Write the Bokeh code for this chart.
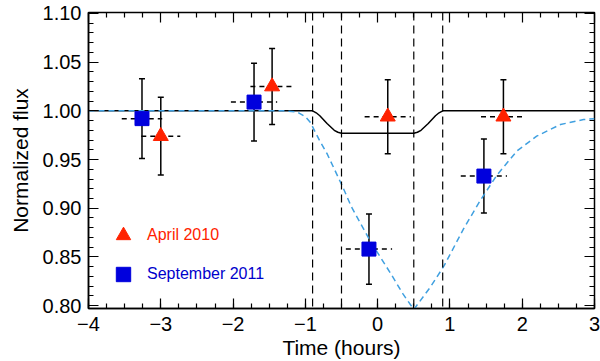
import numpy as np
from bokeh.plotting import figure
from bokeh.models import (ColumnDataSource, Whisker, TeeHead, Span, Legend, LegendItem,
                          LinearAxis, SingleIntervalTicker, FixedTicker, NumeralTickFormatter,
                          Range1d)
from bokeh.embed import file_html
from bokeh.resources import INLINE

# ---------------- data ----------------
april_time = [-3.00, -1.46, 0.14, 1.74]
april_flux = [0.974, 1.025, 0.994, 0.994]
april_flux_err = [0.040, 0.039, 0.038, 0.038]
april_time_err = [0.27, 0.30, 0.32, 0.31]

sept_time = [-3.26, -1.71, -0.12, 1.47]
sept_flux = [0.992, 1.009, 0.858, 0.933]
sept_flux_err = [0.041, 0.040, 0.036, 0.038]
sept_time_err = [0.28, 0.32, 0.32, 0.32]

model_time = [-4.0, -0.90, -0.85, -0.80, -0.70, -0.60, -0.55, -0.50,
              0.50, 0.55, 0.60, 0.70, 0.80, 0.85, 0.90, 3.0]
model_flux = [1.000, 1.000, 0.998, 0.995, 0.987, 0.980, 0.978, 0.977,
              0.977, 0.978, 0.980, 0.987, 0.995, 0.998, 1.000, 1.000]

fit_time = [-4.0, -1.30, -1.12, -1.00, -0.93, -0.80, -0.70, -0.49, -0.36, -0.10,
            0.18, 0.35, 0.50, 0.73, 0.92, 1.19, 1.42, 1.65, 1.93, 2.20, 2.53, 2.85, 3.0]
fit_flux = [1.000, 1.000, 0.999, 0.994, 0.988, 0.969, 0.956, 0.923, 0.901, 0.866,
            0.833, 0.812, 0.796, 0.819, 0.841, 0.879, 0.908, 0.934, 0.959, 0.974, 0.986, 0.991, 0.992]

contact_times = [-0.9, -0.5, 0.5, 0.9]

x_ticks = [-4, -3, -2, -1, 0, 1, 2, 3]
x_tick_labels = ["\u22124", "\u22123", "\u22122", "\u22121", "0", "1", "2", "3"]
y_ticks = [0.80, 0.85, 0.90, 0.95, 1.00, 1.05, 1.10]

series_labels = ["April 2010", "September 2011"]

# ---------------- styles ----------------
FONT = "Liberation Sans"
RED = "#ff2200"
BLUE = "#0000dd"
LIGHTBLUE = "#40a0e0"

p = figure(width=600, height=361, output_backend="svg", toolbar_location=None,
           x_range=Range1d(-4, 3), y_range=Range1d(0.797, 1.101),
           min_border_left=88, min_border_right=6, min_border_top=12, min_border_bottom=10,
           x_axis_label="Time (hours)", y_axis_label="Normalized flux")
p.grid.visible = False
p.background_fill_color = "white"
p.border_fill_color = "white"
p.outline_line_color = "black"
p.outline_line_width = 1.5

xt = SingleIntervalTicker(interval=1, num_minor_ticks=4)
yt = SingleIntervalTicker(interval=0.05, num_minor_ticks=5)

for ax in (p.xaxis[0], p.yaxis[0]):
    ax.major_tick_in = 10
    ax.major_tick_out = 0
    ax.minor_tick_in = 5
    ax.minor_tick_out = 0
    ax.major_tick_line_width = 1.2
    ax.minor_tick_line_width = 1.2
    ax.axis_line_width = 1.5
    ax.major_label_text_font = FONT
    ax.major_label_text_font_size = "20px"
    ax.major_label_text_color = "black"
    ax.axis_label_text_font = FONT
    ax.axis_label_text_font_size = "21px"
    ax.axis_label_text_font_style = "normal"
    ax.axis_label_text_color = "black"

p.xaxis[0].ticker = xt
p.yaxis[0].ticker = yt
p.xaxis[0].major_label_overrides = {float(t): s for t, s in zip(x_ticks, x_tick_labels)}
p.yaxis[0].formatter = NumeralTickFormatter(format="0.00")
p.xaxis[0].major_label_standoff = 8
p.xaxis[0].axis_label_standoff = 2
p.yaxis[0].major_label_standoff = 7
p.yaxis[0].axis_label_standoff = 8

# mirrored tick marks on top and right (no labels): major and minor positions
x_major = list(map(float, x_ticks))
x_minor = [float(v) for v in np.arange(-4.0, 3.0001, 0.25) if abs(v - round(v)) > 1e-6]
y_major = list(y_ticks)
y_minor = [float(round(v, 3)) for v in np.arange(0.80, 1.1001, 0.01)
           if abs(v / 0.05 - round(v / 0.05)) > 1e-6]

for loc, maj, mnr in (("above", x_major, x_minor), ("right", y_major, y_minor)):
    for ticks, length in ((maj, 10), (mnr, 5)):
        ax = LinearAxis(ticker=FixedTicker(ticks=[], minor_ticks=ticks),
                        major_tick_in=0, major_tick_out=0,
                        minor_tick_in=length, minor_tick_out=0,
                        minor_tick_line_width=1.2, major_label_standoff=0,
                        axis_label_standoff=0, axis_line_color=None)
        p.add_layout(ax, loc)

# model curves
p.line(model_time, model_flux, line_color="black", line_width=1.5)
p.line(fit_time, fit_flux, line_color=LIGHTBLUE, line_width=1.5, line_dash="6 4")

for t in contact_times:
    p.add_layout(Span(location=t, dimension="height", line_color="black",
                      line_width=1.2, line_dash="8 5"))

# error bars
def add_errors(tt, ff, fe, te):
    src = ColumnDataSource(dict(
        t=tt, f=ff,
        fu=[f + e for f, e in zip(ff, fe)], fl=[f - e for f, e in zip(ff, fe)],
        tl=[t - e for t, e in zip(tt, te)], tr=[t + e for t, e in zip(tt, te)]))
    p.segment(x0="tl", x1="tr", y0="f", y1="f", source=src, line_color="black",
              line_width=1.5, line_dash="5 4")
    p.add_layout(Whisker(source=src, base="t", upper="fu", lower="fl", dimension="height",
                         line_color="black", line_width=1.5,
                         upper_head=TeeHead(size=6, line_color="black", line_width=1.5),
                         lower_head=TeeHead(size=6, line_color="black", line_width=1.5)))
    return src

add_errors(april_time, april_flux, april_flux_err, april_time_err)
add_errors(sept_time, sept_flux, sept_flux_err, sept_time_err)

r_april = p.scatter(april_time, april_flux, marker="triangle", size=15,
                    fill_color=RED, line_color=RED)
r_sept = p.scatter(sept_time, sept_flux, marker="square", size=14,
                   fill_color=BLUE, line_color=BLUE)

# legends (one per entry so each label keeps its own colour)
for r, lab, col, loc in ((r_april, series_labels[0], RED, (17, 55)),
                         (r_sept, series_labels[1], "#0000cc", (17, 16))):
    lg = Legend(items=[LegendItem(label=lab, renderers=[r])], location=loc,
                glyph_width=36, glyph_height=36, label_standoff=6, padding=0, margin=0,
                spacing=0, border_line_color=None, background_fill_alpha=0,
                label_text_font=FONT, label_text_font_size="16px", label_text_color=col,
                label_height=36)
    p.add_layout(lg, "center")

open("out.html", "w").write(file_html(p, INLINE))
